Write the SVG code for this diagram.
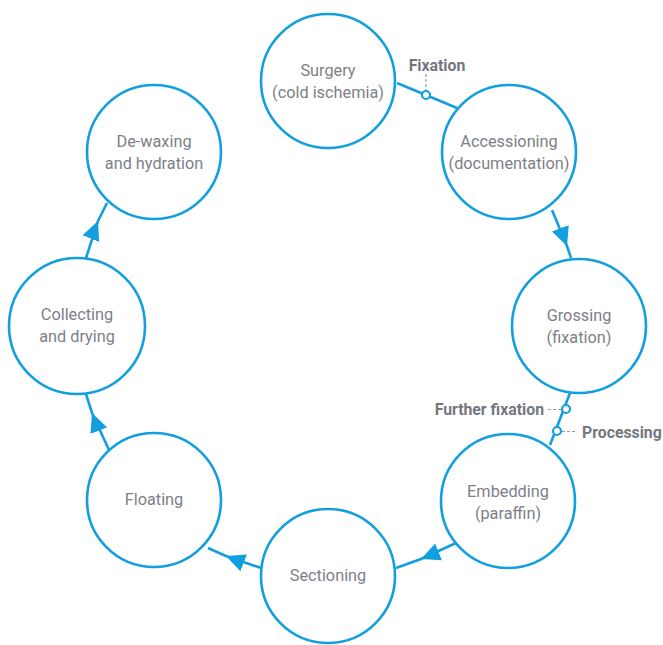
<svg xmlns="http://www.w3.org/2000/svg" width="663" height="645" viewBox="0 0 663 645">
<defs>
<style>
.node circle{fill:#fff;stroke:#119fe0;stroke-width:2.6}
.node text{font-family:Roboto,"Liberation Sans",sans-serif;font-size:16.3px;fill:#7d8087;text-anchor:middle}
.conn{fill:none;stroke:#119fe0;stroke-width:2.6}
.dot{fill:#fff;stroke:#119fe0;stroke-width:2.2}
.lead{stroke:#9a9da3;stroke-width:1.2;stroke-dasharray:3 2;fill:none}
.lbl{font-family:Roboto,"Liberation Sans",sans-serif;font-size:15.8px;font-weight:bold;fill:#74777e}
</style>
<marker id="arr" markerUnits="userSpaceOnUse" markerWidth="20" markerHeight="20" viewBox="0 -9 19 18" refX="18" refY="0" orient="auto">
<path d="M0,-8.5 L18,0 L0,8.5 z" fill="#119fe0"/>
</marker>
</defs>
<rect width="663" height="645" fill="#fff"/>
<g id="connectors">
<path class="conn" d="M397,83 L457,108"/>
<path class="conn" d="M552,210 L567,246 L571,258" marker-mid="url(#arr)"/>
<path class="conn" d="M570,393 L550,445"/>
<path class="conn" d="M456,543 L421,559 L396,568" marker-mid="url(#arr)"/>
<path class="conn" d="M261,568 L226,556 L208,548" marker-mid="url(#arr)"/>
<path class="conn" d="M109,450 L92,413 L86,394" marker-mid="url(#arr)"/>
<path class="conn" d="M86,258 L98,221 L107,203" marker-mid="url(#arr)"/>
<circle class="dot" cx="426" cy="95" r="4"/>
<circle class="dot" cx="566" cy="409" r="4"/>
<circle class="dot" cx="557" cy="431" r="4"/>
<path class="lead" d="M426,74 V90"/>
<path class="lead" d="M548,409.5 H561"/>
<path class="lead" d="M562,431.5 H577"/>
<text class="lbl" x="437" y="71" text-anchor="middle">Fixation</text>
<text class="lbl" x="544" y="415" text-anchor="end">Further fixation</text>
<text class="lbl" x="582" y="438">Processing</text>
</g>
<g id="surgery" class="node"><circle cx="328" cy="81" r="67"/><text x="328" y="76">Surgery</text><text x="328" y="98">(cold ischemia)</text></g>
<g id="accessioning" class="node"><circle cx="509" cy="152" r="67"/><text x="509" y="147">Accessioning</text><text x="509" y="169">(documentation)</text></g>
<g id="grossing" class="node"><circle cx="579" cy="326" r="67"/><text x="579" y="321">Grossing</text><text x="579" y="343">(fixation)</text></g>
<g id="embedding" class="node"><circle cx="508" cy="501" r="67"/><text x="508" y="497">Embedding</text><text x="508" y="519">(paraffin)</text></g>
<g id="sectioning" class="node"><circle cx="328" cy="576" r="67"/><text x="328" y="581">Sectioning</text></g>
<g id="floating" class="node"><circle cx="154" cy="500" r="67"/><text x="154" y="505">Floating</text></g>
<g id="collecting" class="node"><circle cx="77" cy="326" r="68"/><text x="77" y="320">Collecting</text><text x="77" y="342">and drying</text></g>
<g id="dewaxing" class="node"><circle cx="154" cy="152" r="67"/><text x="154" y="147">De-waxing</text><text x="154" y="169">and hydration</text></g>
</svg>
